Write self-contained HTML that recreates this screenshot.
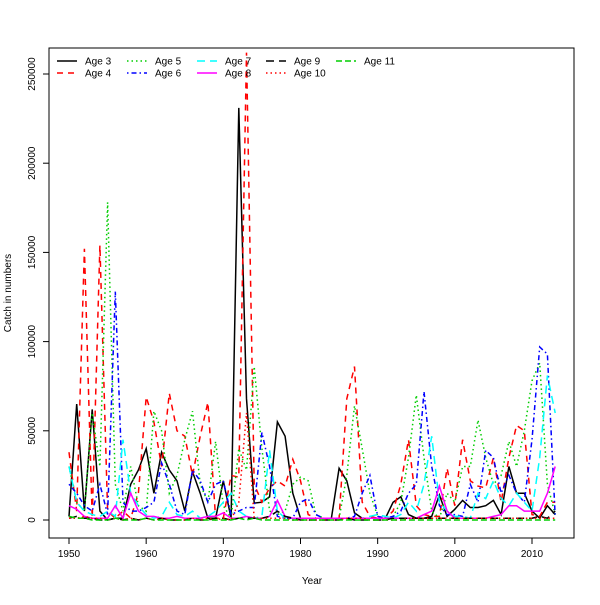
<!DOCTYPE html>
<html><head><meta charset="utf-8"><style>
body{margin:0;background:#fff}
text{font-family:"Liberation Sans","DejaVu Sans",sans-serif;font-size:10px;fill:#000}
</style></head><body>
<svg id="chart" width="600" height="600" xmlns="http://www.w3.org/2000/svg">
<rect x="0" y="0" width="600" height="600" fill="#fff"/>
<g id="plot"></g>
</svg>
<script>
const years = Array.from({length:64},(_,i)=>1950+i);
const age3 = [2,65,5,62,5,0,1,1,20,28,40,15,38,28,22,5,27,15,1,1,22,1,231,68,9.5,10,13,55,47,15,1,1,1,1,1,29,22,4,1,1,1,1,10,13,3,1,1,2,14,2,6,11,7,7,8,11,3,30,15,15,5,1,8,3];
const age4 = [38,5,152,1,154,5,1,5,1,15,69,55,30,71,50,47,25,47,66,1,1,25,24,262,20,10,18,22,19,34,22,3,1,1,1,1,68,86,10,2,1,1,5,20,45,8,3,2,2,29,8,45,22,19,18,35,10,35,53,50,3,2,10,10];
const age5 = [30,10,5,60,30,178,20,5,30,8,5,61,50,15,25,45,61,20,10,44,8,1,40,28,86,40,5,3,5,20,24,22,3,1,1,1,25,64,40,15,2,1,2,10,35,70,35,5,1,15,10,30,30,56,35,20,25,44,30,50,78,88,20,3];
const age6 = [20,15,8,5,20,3,128,10,5,5,7,10,32,20,5,3,28,22,10,20,22,3,5,7,7,49,30,2,1,1,10,12,3,1,1,1,1,2,15,25,2,1,2,5,15,20,72,30,8,3,3,2,20,10,39,35,15,25,15,10,45,97,93,2];
const age7 = [30,10,5,3,2,5,2,45,15,8,3,1,2,10,3,2,5,1,2,5,10,15,5,2,1,2,39,5,1,1,1,1,1,1,1,1,1,1,1,2,3,2,1,3,10,5,20,47,10,5,2,2,1,15,12,22,12,8,15,10,5,35,81,60];
const age8 = [8,6,2,1,1,1,8,1,15,5,2,2,1,1,2,1,1,1,2,2,4,1,1,2,1,1,2,11,2,1,1,1,1,1,1,1,1,1,1,1,1,1,1,1,1,1,3,5,19,5,1,1,1,1,1,2,3,8,8,5,5,5,15,30];
const age9 = [1,2,1,1,0,0,1,0,1,0,1,0,1,0,0,0,1,0,0,1,1,0,1,1,1,1,2,5,2,1,0,0,0,0,0,0,1,0,0,0,0,0,1,1,1,1,1,1,1,1,1,1,1,1,1,1,1,1,1,1,1,2,1,5];
const age10 = [1,1,2,1,1,0,1,0,1,0,1,0,1,0,0,0,1,0,1,0,1,0,10,60,1,1,1,1,1,0,0,0,0,0,0,0,1,1,1,0,0,0,0,0,1,1,1,1,1,1,1,1,1,1,1,1,1,1,1,1,1,1,1,1];
const age11 = [2,1,1,0,0,0,1,0,0,0,1,0,0,0,0,0,0,0,0,0,0,0,1,0,1,0,0,0,0,0,0,0,0,0,0,0,0,0,0,0,0,0,0,0,0,0,0,0,0,0,0,0,0,0,0,0,0,0,0,0,0,0,0,0];
const yTicks = [0,50000,100000,150000,200000,250000];
const xTicks = [1950,1960,1970,1980,1990,2000,2010];

const X = y => 69 + (y-1950)*(463/60);
const Y = v => 520 - v*(446/250000);
const NS="http://www.w3.org/2000/svg";
const svg=document.getElementById('chart'), plot=document.getElementById('plot');
function mk(tag,attrs,parent){const e=document.createElementNS(NS,tag);for(const k in attrs)e.setAttribute(k,attrs[k]);(parent||svg).appendChild(e);return e;}

const series=[
 ['Age 3',age3,'#000','',1],['Age 4',age4,'#ff0000','6,5',1],['Age 5',age5,'#00cd00','1.5,3',1],
 ['Age 6',age6,'#0000ff','1.5,3,5,3',1],['Age 7',age7,'#00ffff','8,5',1],['Age 8',age8,'#ff00ff','',1],
 ['Age 9',age9,'#000','8,5',1],['Age 10',age10,'#ff0000','1.5,3',1],['Age 11',age11,'#00cd00','6,3',1]];
series.forEach(s=>{
  const pts=years.map((yr,i)=>X(yr).toFixed(1)+','+Y(s[1][i]*1000).toFixed(1)).join(' ');
  const p=mk('polyline',{points:pts,fill:'none',stroke:s[2],'stroke-width':1.5,'stroke-dasharray':s[3]||'none'},plot);
  
  
});

const frame=mk('rect',{x:49,y:48,width:525,height:490,fill:'none',stroke:'#000','stroke-width':1});



yTicks.forEach(v=>{
  const t=mk('line',{x1:43,x2:49,y1:Y(v),y2:Y(v),stroke:'#000'});
  
  
  const l=mk('text',{x:35,y:Y(v),'text-anchor':'middle',transform:`rotate(-90 35 ${Y(v)})`});
  l.textContent=v;
  
  
});
xTicks.forEach(v=>{
  const t=mk('line',{x1:X(v),x2:X(v),y1:538,y2:544,stroke:'#000'});
  
  
  const l=mk('text',{x:X(v),y:557,'text-anchor':'middle'});
  l.textContent=v;
  
  
});
const xt=mk('text',{x:312,y:584,'text-anchor':'middle'});xt.textContent='Year';


const yt=mk('text',{x:11,y:293,'text-anchor':'middle',transform:'rotate(-90 11 293)'});yt.textContent='Catch in numbers';



const legX=[57,127,197,266,336];
series.forEach((s,i)=>{
  const col=Math.floor(i/2),row=i%2;
  const lx=legX[col], ly=61+row*12;
  const g=mk('g',{});
  
  
  mk('line',{x1:lx,x2:lx+20,y1:ly,y2:ly,stroke:s[2],'stroke-width':1.5,'stroke-dasharray':s[3]||'none'},g);
  const t=mk('text',{x:lx+28,y:ly+3.5},g);t.textContent=s[0];
});
</script>
</body></html>
